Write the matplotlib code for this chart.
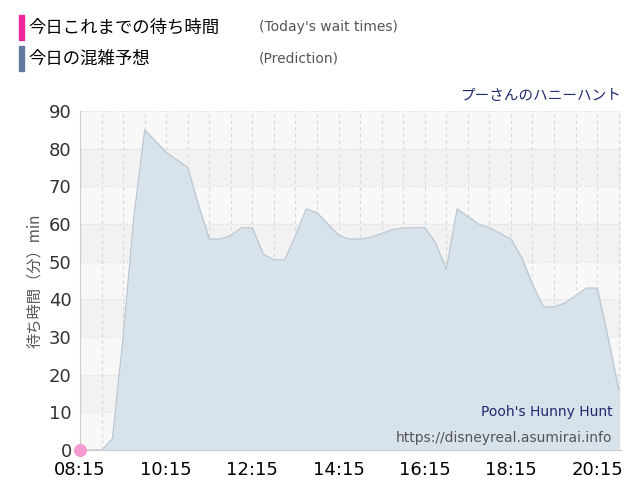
import numpy as np
import matplotlib.pyplot as plt

plt.rcParams['font.family'] = ['Noto Sans CJK JP', 'DejaVu Sans']

# prediction, every 15 minutes from 08:15
pred_times = ["08:15", "08:30", "08:45", "09:00", "09:15", "09:30", "09:45", "10:00", "10:15",
              "10:30", "10:45", "11:00", "11:15", "11:30", "11:45", "12:00", "12:15", "12:30",
              "12:45", "13:00", "13:15", "13:30", "13:45", "14:00", "14:15", "14:30", "14:45",
              "15:00", "15:15", "15:30", "15:45", "16:00", "16:15", "16:30", "16:45", "17:00",
              "17:15", "17:30", "17:45", "18:00", "18:15", "18:30", "18:45", "19:00", "19:15",
              "19:30", "19:45", "20:00", "20:15", "20:30", "20:45"]
pred_values = [0, 0, 0, 3, 30, 62, 85, 82, 79, 77, 75, 65, 56, 56, 57, 59, 59, 52,
               50.5, 50.5, 57, 64, 63, 60, 57, 56, 56, 56.5, 57.5, 58.5, 59, 59, 59, 55,
               48, 64, 62, 60, 59, 57.5, 56, 51, 44, 38, 38, 39, 41, 43, 43, 30, 16]
actual_times = ["08:15"]
actual_values = [0]
tick_labels = ["08:15", "10:15", "12:15", "14:15", "16:15", "18:15", "20:15"]


def to_h(t):
    h, m = t.split(":")
    return int(h) + int(m) / 60.


px = np.array([to_h(t) for t in pred_times])
ax_x = np.array([to_h(t) for t in actual_times])

fig = plt.figure(figsize=(6.4, 5.0), dpi=100)
ax = fig.add_axes([0.125, 0.1, 0.845, 0.678])

x0, x1 = 8.25, 20.8
for i in range(9):
    ax.axhspan(i * 10, i * 10 + 10, color='#f2f2f2' if i % 2 else '#f8f8f8', zorder=0, lw=0)
for x in np.arange(8.25, 21.0, 0.5):
    ax.axvline(x, color='#d8d8d8', ls=(0, (3, 3)), lw=0.8, zorder=1)
for y in range(0, 100, 10):
    ax.axhline(y, color='#dcdcdc', ls=':', lw=0.9, zorder=1)

ax.fill_between(px, pred_values, 0, color='#d8e2eb', zorder=2)
ax.plot(px, pred_values, color='#b9c6d2', lw=0.8, zorder=3)
ax.scatter(ax_x, actual_values, s=70, color='#f59ad0', zorder=5, clip_on=False)

ax.set_xlim(x0, x1)
ax.set_ylim(0, 90)
ax.set_xticks([to_h(t) for t in tick_labels])
ax.set_xticklabels(tick_labels, fontsize=13, family=['DejaVu Sans'])
ax.set_yticks(range(0, 100, 10))
ax.set_yticklabels([str(v) for v in range(0, 100, 10)], fontsize=13, family=['DejaVu Sans'])
ax.tick_params(axis='y', colors='#333333', length=0, pad=6)
ax.tick_params(axis='x', length=0, pad=8)
for s in ['top', 'right']:
    ax.spines[s].set_visible(False)
ax.spines['left'].set_color('#cccccc')
ax.spines['bottom'].set_color('#cccccc')
ax.set_ylabel("待ち時間（分）min", fontsize=11, color='#555555')

# legend
fig.patches.append(plt.Rectangle((0.03, 0.92), 0.008, 0.05, color='#f0279a', transform=fig.transFigure))
fig.patches.append(plt.Rectangle((0.03, 0.858), 0.008, 0.05, color='#6478a0', transform=fig.transFigure))
fig.text(0.045, 0.935, "今日これまでの待ち時間", fontsize=12.5)
fig.text(0.045, 0.873, "今日の混雑予想", fontsize=12.5)
fig.text(0.405, 0.937, "(Today's wait times)", fontsize=10, color='#555555', family=['DejaVu Sans'])
fig.text(0.405, 0.875, "(Prediction)", fontsize=10, color='#555555', family=['DejaVu Sans'])

fig.text(0.97, 0.8, "プーさんのハニーハント", fontsize=10.5, color='#1e2a6e', ha='right')
ax.text(0.985, 0.1, "Pooh's Hunny Hunt", transform=ax.transAxes, ha='right', fontsize=10,
        color='#1e2a6e', family=['DejaVu Sans'])
ax.text(0.985, 0.025, "https://disneyreal.asumirai.info", transform=ax.transAxes, ha='right',
        fontsize=10, color='#555555', family=['DejaVu Sans'])

fig.savefig("out.png", dpi=100)
